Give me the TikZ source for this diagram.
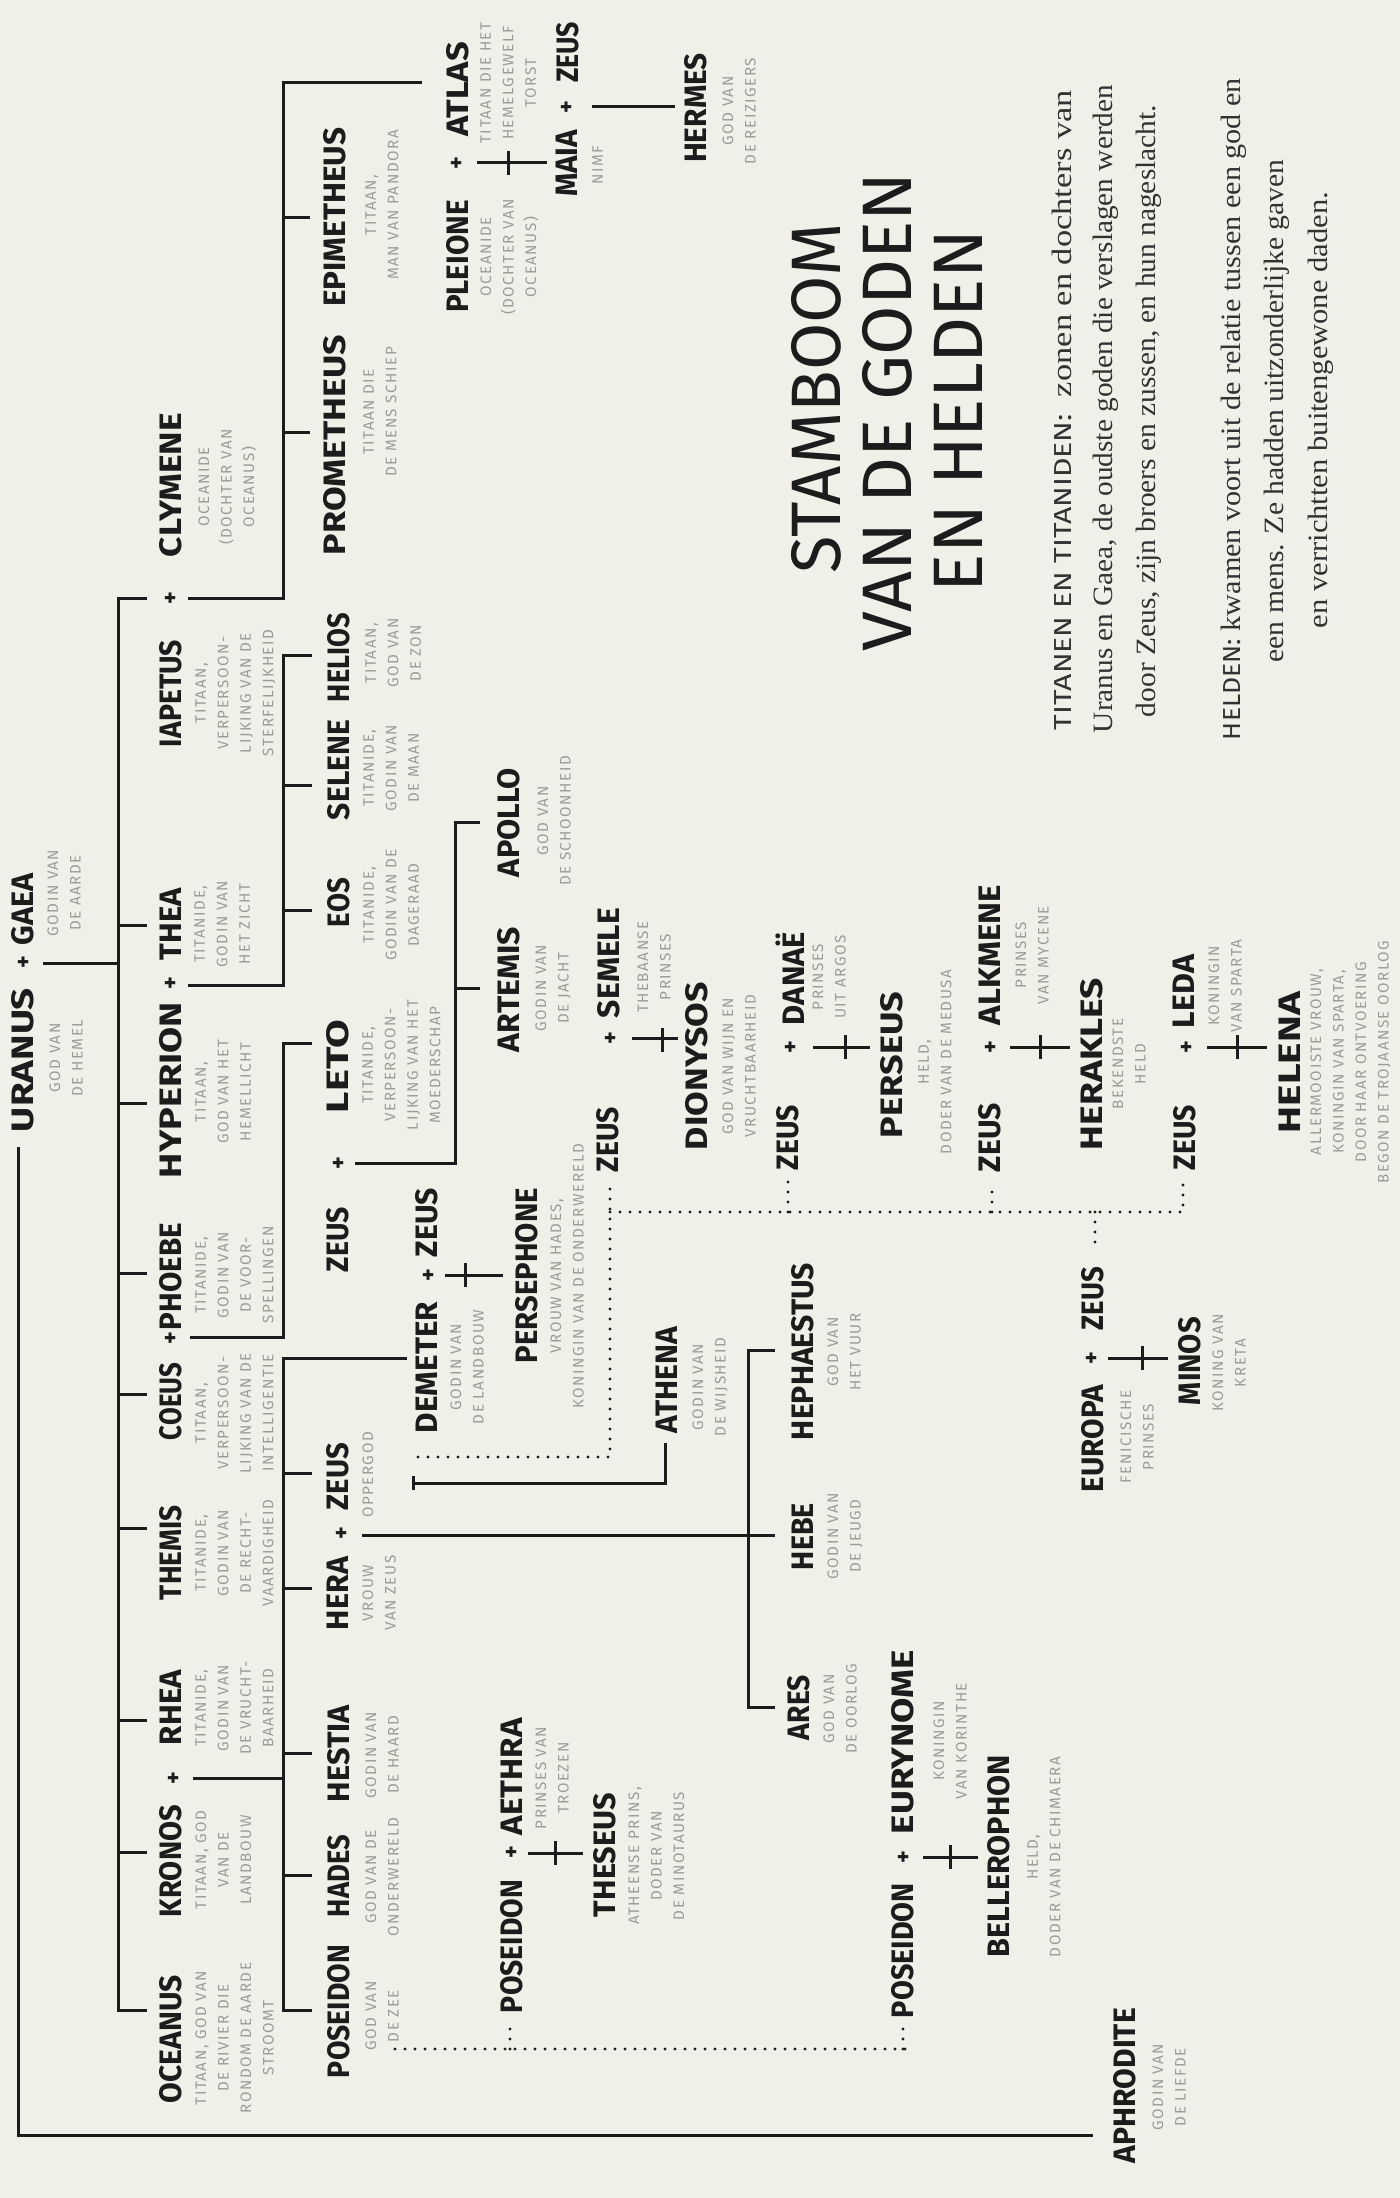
\documentclass[tikz,border=0pt]{standalone}
\usepackage{fontspec}
\usepackage{graphicx}
\setmainfont{Liberation Serif}
\newfontfamily\hand{Fira Sans}
\newfontfamily\handdesc{Fira Sans}[LetterSpace=10]
\definecolor{paper}{RGB}{241,240,232}
\definecolor{ink}{RGB}{28,28,28}
\definecolor{descgray}{RGB}{156,156,151}
\definecolor{legink}{RGB}{50,50,50}
\newsavebox\fitbox
\newdimen\fitdim
\newcommand\fitto[2]{\sbox\fitbox{#2}\fitdim=\wd\fitbox\pgfmathsetmacro\fitfac{(#1)*0.5/\fitdim}\scalebox{\fitfac}[1]{\usebox\fitbox}}
\tikzset{
 nm/.style={rotate=90,inner sep=0pt,font=\hand\bfseries\fontsize{15.5pt}{16pt}\selectfont,text=ink},
 ttl/.style={rotate=90,inner sep=0pt,font=\hand\fontsize{35pt}{36pt}\selectfont,text=ink},
 ds/.style={rotate=90,inner sep=0pt,anchor=north,align=center,font=\handdesc\fontsize{7.6pt}{11.25pt}\selectfont,text=descgray},
 pl/.style={rotate=90,inner sep=0pt,font=\hand\bfseries\fontsize{12pt}{12pt}\selectfont,text=ink},
 lg/.style={rotate=90,inner sep=0pt,anchor=base,font=\fontsize{14pt}{16pt}\selectfont,text=legink},
 ln/.style={draw=ink,line width=1.5pt},
 dt/.style={draw=ink,line width=1.7pt,line cap=round,dash pattern=on 0pt off 5pt},
}
\newcommand\gname[5]{\node[nm] (n#1) at (#2,{(#3+#4)/2}) {\fitto{#3-#4}{#5}};}
\newcommand\gdesc[4]{\node[ds] (d#1) at (#2,#3) {#4};}
\newcommand\gplus[3]{\node[pl] (p#1) at (#2,#3) {+};}
\newcommand\gbar[2]{\draw[ln] (#1,#2-12) -- (#1,#2+12);}
\begin{document}
\begin{tikzpicture}[x=0.5pt,y=-0.5pt]
\fill[paper] (0,0) rectangle (1400,2198);
\useasboundingbox (0,0) rectangle (1400,2198);

% ---------------- connectors ----------------
% Uranus to Aphrodite
\draw[ln] (18,1147) coordinate (urtop) -- (18,2135) -- (1093,2135) coordinate (aphend);
% Uranus + Gaea children
\draw[ln] (43,963) -- (118,963);
\draw[ln] (147,598) -- (118,598) -- (118,2010) -- (147,2010);
\foreach \yy in {925,1103,1273,1394,1528,1720,1852} \draw[ln] (118,\yy) -- (147,\yy);
% Iapetus + Clymene
\draw[ln] (188,598) -- (283,598) -- (283,83) -- (422,83);
\foreach \yy in {218,433} \draw[ln] (283,\yy) -- (310,\yy);
% Hyperion + Thea
\draw[ln] (188,985) -- (283,985) -- (283,655) -- (312,655);
\foreach \yy in {785,910} \draw[ln] (283,\yy) -- (312,\yy);
% Coeus + Phoebe
\draw[ln] (190,1337) -- (283,1337) -- (283,1043) -- (312,1043);
% Kronos + Rhea
\draw[ln] (193,1778) -- (283,1778);
\draw[ln] (407,1358) -- (283,1358) -- (283,2010) -- (312,2010);
\foreach \yy in {1473,1588,1753,1875} \draw[ln] (283,\yy) -- (312,\yy);
% Zeus + Leto
\draw[ln] (355,1163) -- (455,1163) -- (455,822) -- (480,822);
\draw[ln] (455,988) -- (480,988);
% Demeter + Zeus
\draw[ln] (445,1275) -- (503,1275); \gbar{465}{1275}
% Hera + Zeus
\draw[ln] (362,1535) -- (775,1535);
\draw[ln] (775,1350) -- (748,1350) -- (748,1707) -- (775,1707);
% Athena
\draw[ln] (413,1476) -- (413,1490);
\draw[ln] (413,1483) -- (665,1483) -- (665,1443);
% Zeus dotted links
\draw[dt] (418,1457) -- (610,1457) -- (610,1180);
\draw[dt] (610,1212) -- (1183,1212) -- (1183,1180);
\draw[dt] (788,1212) -- (788,1180);
\draw[dt] (992,1212) -- (992,1188);
\draw[dt] (1095,1212) -- (1095,1247);
% single child lines
\draw[ln] (632,1038) -- (678,1038); \gbar{662}{1040}
\draw[ln] (813,1047) -- (870,1047); \gbar{845}{1047}
\draw[ln] (1010,1047) -- (1070,1047); \gbar{1040}{1047}
\draw[ln] (1207,1047) -- (1267,1047); \gbar{1237}{1047}
\draw[ln] (1108,1358) -- (1168,1358); \gbar{1142}{1358}
\draw[ln] (477,163) -- (547,163); \gbar{508}{163}
\draw[ln] (592,107) -- (675,107);
\draw[ln] (528,1853) -- (583,1853); \gbar{555}{1853}
\draw[ln] (923,1857) -- (978,1857); \gbar{950}{1857}
% Poseidon dotted links
\draw[dt] (395,2049) -- (905,2049);
\draw[dt] (510,2049) -- (510,2027);
\draw[dt] (903,2049) -- (903,2027);

% ---------------- names ----------------
\gname{uranus}{23}{1132}{988}{URANUS}
\gname{gaea}{23}{945}{873}{GAEA}
\gname{iapetus}{171}{747}{640}{IAPETUS}
\gname{clymene}{171}{557}{413}{CLYMENE}
\gname{hyperion}{171}{1178}{1002}{HYPERION}
\gname{thea}{171}{960}{888}{THEA}
\gname{coeus}{171}{1440}{1363}{COEUS}
\gname{phoebe}{171}{1330}{1223}{PHOEBE}
\gname{themis}{171}{1600}{1505}{THEMIS}
\gname{kronos}{171}{1917}{1805}{KRONOS}
\gname{rhea}{171}{1745}{1670}{RHEA}
\gname{oceanus}{171}{2103}{1975}{OCEANUS}
\gname{epimetheus}{335}{307}{128}{EPIMETHEUS}
\gname{prometheus}{335}{555}{335}{PROMETHEUS}
\gname{helios}{339}{702}{613}{HELIOS}
\gname{selene}{339}{820}{720}{SELENE}
\gname{eos}{339}{927}{878}{EOS}
\gname{leto}{338}{1113}{1020}{LETO}
\gname{zeusa}{338}{1272}{1207}{ZEUS}
\gname{zeusb}{338}{1510}{1443}{ZEUS}
\gname{hera}{338}{1630}{1557}{HERA}
\gname{hestia}{339}{1802}{1705}{HESTIA}
\gname{hades}{339}{1917}{1835}{HADES}
\gname{poseidon}{339}{2078}{1945}{POSEIDON}
\gname{atlas}{458}{137}{42}{ATLAS}
\gname{pleione}{458}{313}{200}{PLEIONE}
\gname{maia}{567}{197}{130}{MAIA}
\gname{zeusc}{568}{83}{22}{ZEUS}
\gname{hermes}{696}{163}{53}{HERMES}
\gname{apollo}{509}{877}{768}{APOLLO}
\gname{artemis}{509}{1052}{927}{ARTEMIS}
\gname{demeter}{427}{1433}{1302}{DEMETER}
\gname{zeusd}{427}{1257}{1188}{ZEUS}
\gname{persephone}{527}{1363}{1188}{PERSEPHONE}
\gname{semele}{609}{1018}{908}{SEMELE}
\gname{zeuse}{608}{1172}{1107}{ZEUS}
\gname{dionysos}{697}{1150}{982}{DIONYSOS}
\gname{athena}{667}{1433}{1327}{ATHENA}
\gname{hephaestus}{803}{1440}{1263}{HEPHAESTUS}
\gname{hebe}{803}{1570}{1503}{HEBE}
\gname{ares}{799}{1740}{1675}{ARES}
\gname{danae}{790}{1025}{932}{DANAË}
\gname{zeusf}{788}{1170}{1105}{ZEUS}
\gname{perseus}{892}{1138}{992}{PERSEUS}
\gname{alkmene}{990}{1025}{885}{ALKMENE}
\gname{zeusg}{990}{1172}{1103}{ZEUS}
\gname{herakles}{1092}{1150}{978}{HERAKLES}
\gname{leda}{1184}{1028}{955}{LEDA}
\gname{zeush}{1185}{1170}{1105}{ZEUS}
\gname{helena}{1290}{1133}{992}{HELENA}
\gname{europa}{1093}{1492}{1385}{EUROPA}
\gname{zeusi}{1093}{1330}{1267}{ZEUS}
\gname{minos}{1190}{1405}{1317}{MINOS}
\gname{poseidona}{512}{2013}{1880}{POSEIDON}
\gname{aethra}{512}{1835}{1718}{AETHRA}
\gname{theseus}{605}{1917}{1793}{THESEUS}
\gname{poseidonb}{903}{2018}{1883}{POSEIDON}
\gname{eurynome}{903}{1834}{1650}{EURYNOME}
\gname{bellerophon}{999}{1957}{1755}{BELLEROPHON}
\gname{aphrodite}{1125}{2163}{2008}{APHRODITE}

% ---------------- plus signs ----------------
\gplus{uranus}{25}{962}
\gplus{iapetus}{172}{598}
\gplus{hyperion}{172}{983}
\gplus{coeus}{172}{1338}
\gplus{kronos}{175}{1778}
\gplus{pleione}{458}{163}
\gplus{maia}{568}{107}
\gplus{leto}{340}{1163}
\gplus{demeter}{430}{1275}
\gplus{hera}{343}{1533}
\gplus{semele}{612}{1038}
\gplus{danae}{792}{1047}
\gplus{alkmene}{992}{1047}
\gplus{leda}{1188}{1047}
\gplus{europa}{1093}{1358}
\gplus{aethra}{513}{1852}
\gplus{eurynome}{905}{1857}

% ---------------- descriptions ----------------
\gdesc{uranus}{49}{1058}{GOD VAN\\DE HEMEL}
\gdesc{gaea}{47}{893}{GODIN VAN\\DE AARDE}
\gdesc{clymene}{198}{487}{OCEANIDE\\(DOCHTER VAN\\OCEANUS)}
\gdesc{iapetus}{195}{693}{TITAAN,\\VERPERSOON-\\LIJKING VAN DE\\STERFELIJKHEID}
\gdesc{thea}{194}{924}{TITANIDE,\\GODIN VAN\\HET ZICHT}
\gdesc{hyperion}{195}{1092}{TITAAN,\\GOD VAN HET\\HEMELLICHT}
\gdesc{phoebe}{195}{1275}{TITANIDE,\\GODIN VAN\\DE VOOR-\\SPELLINGEN}
\gdesc{coeus}{195}{1413}{TITAAN,\\VERPERSOON-\\LIJKING VAN DE\\INTELLIGENTIE}
\gdesc{themis}{195}{1553}{TITANIDE,\\GODIN VAN\\DE RECHT-\\VAARDIGHEID}
\gdesc{rhea}{195}{1708}{TITANIDE,\\GODIN VAN\\DE VRUCHT-\\BAARHEID}
\gdesc{kronos}{195}{1860}{TITAAN, GOD\\VAN DE\\LANDBOUW}
\gdesc{oceanus}{195}{2038}{TITAAN, GOD VAN\\DE RIVIER DIE\\RONDOM DE AARDE\\STROOMT}
\gdesc{epimetheus}{365}{205}{TITAAN,\\MAN VAN PANDORA}
\gdesc{prometheus}{363}{412}{TITAAN DIE\\DE MENS SCHIEP}
\gdesc{helios}{365}{653}{TITAAN,\\GOD VAN\\DE ZON}
\gdesc{selene}{363}{768}{TITANIDE,\\GODIN VAN\\DE MAAN}
\gdesc{eos}{363}{905}{TITANIDE,\\GODIN VAN DE\\DAGERAAD}
\gdesc{leto}{362}{1065}{TITANIDE,\\VERPERSOON-\\LIJKING VAN HET\\MOEDERSCHAP}
\gdesc{zeusb}{362}{1475}{OPPERGOD}
\gdesc{hera}{362}{1593}{VROUW\\VAN ZEUS}
\gdesc{hestia}{365}{1755}{GODIN VAN\\DE HAARD}
\gdesc{hades}{365}{1877}{GOD VAN DE\\ONDERWERELD}
\gdesc{poseidon}{365}{2016}{GOD VAN\\DE ZEE}
\gdesc{atlas}{480}{83}{TITAAN DIE HET\\HEMELGEWELF\\TORST}
\gdesc{pleione}{480}{257}{OCEANIDE\\(DOCHTER VAN\\OCEANUS)}
\gdesc{maia}{592}{165}{NIMF}
\gdesc{hermes}{722}{111}{GOD VAN\\DE REIZIGERS}
\gdesc{apollo}{537}{821}{GOD VAN\\DE SCHOONHEID}
\gdesc{artemis}{535}{988}{GODIN VAN\\DE JACHT}
\gdesc{demeter}{450}{1367}{GODIN VAN\\DE LANDBOUW}
\gdesc{persephone}{550}{1276}{VROUW VAN HADES,\\KONINGIN VAN DE ONDERWERELD}
\gdesc{semele}{637}{967}{THEBAANSE\\PRINSES}
\gdesc{dionysos}{722}{1066}{GOD VAN WIJN EN\\VRUCHTBAARHEID}
\gdesc{athena}{692}{1387}{GODIN VAN\\DE WIJSHEID}
\gdesc{hephaestus}{827}{1352}{GOD VAN\\HET VUUR}
\gdesc{hebe}{827}{1536}{GODIN VAN\\DE JEUGD}
\gdesc{ares}{823}{1709}{GOD VAN\\DE OORLOG}
\gdesc{danae}{812}{977}{PRINSES\\UIT ARGOS}
\gdesc{perseus}{918}{1062}{HELD,\\DODER VAN DE MEDUSA}
\gdesc{alkmene}{1015}{955}{PRINSES\\VAN MYCENE}
\gdesc{herakles}{1112}{1064}{BEKENDSTE\\HELD}
\gdesc{leda}{1208}{986}{KONINGIN\\VAN SPARTA}
\gdesc{helena}{1310}{1062}{ALLERMOOISTE VROUW,\\KONINGIN VAN SPARTA,\\DOOR HAAR ONTVOERING\\BEGON DE TROJAANSE OORLOG}
\gdesc{europa}{1120}{1437}{FENICISCHE\\PRINSES}
\gdesc{minos}{1212}{1363}{KONING VAN\\KRETA}
\gdesc{aethra}{535}{1778}{PRINSES VAN\\TROEZEN}
\gdesc{theseus}{628}{1856}{ATHEENSE PRINS,\\DODER VAN\\DE MINOTAURUS}
\gdesc{eurynome}{933}{1741}{KONINGIN\\VAN KORINTHE}
\gdesc{bellerophon}{1027}{1857}{HELD,\\DODER VAN DE CHIMAERA}
\gdesc{aphrodite}{1152}{2087}{GODIN VAN\\DE LIEFDE}

% ---------------- title ----------------
\node[ttl] (title1) at (816,398) {\fitto{350}{STAMBOOM}};
\node[ttl] (title2) at (887,412) {\fitto{479}{VAN DE GODEN}};
\node[ttl] (title3) at (958,411) {\fitto{362}{EN HELDEN}};

% ---------------- legend ----------------
\node[lg] (leg1) at (1071,410) {\fitto{640}{{\hand\fontsize{12.3pt}{12pt}\selectfont TITANEN EN TITANIDEN:}\ \ zonen en dochters van}};
\node[lg] (leg2) at (1112,409) {\fitto{648}{Uranus en Gaea, de oudste goden die verslagen werden}};
\node[lg] (leg3) at (1155,411) {\fitto{612}{door Zeus, zijn broers en zussen, en hun nageslacht.}};
\node[lg] (leg4) at (1240,409) {\fitto{662}{{\hand\fontsize{12.3pt}{12pt}\selectfont HELDEN:}\ kwamen voort uit de relatie tussen een god en}};
\node[lg] (leg5) at (1283,411) {\fitto{503}{een mens. Ze hadden uitzonderlijke gaven}};
\node[lg] (leg6) at (1327,410) {\fitto{436}{en verrichtten buitengewone daden.}};
\end{tikzpicture}
\end{document}
